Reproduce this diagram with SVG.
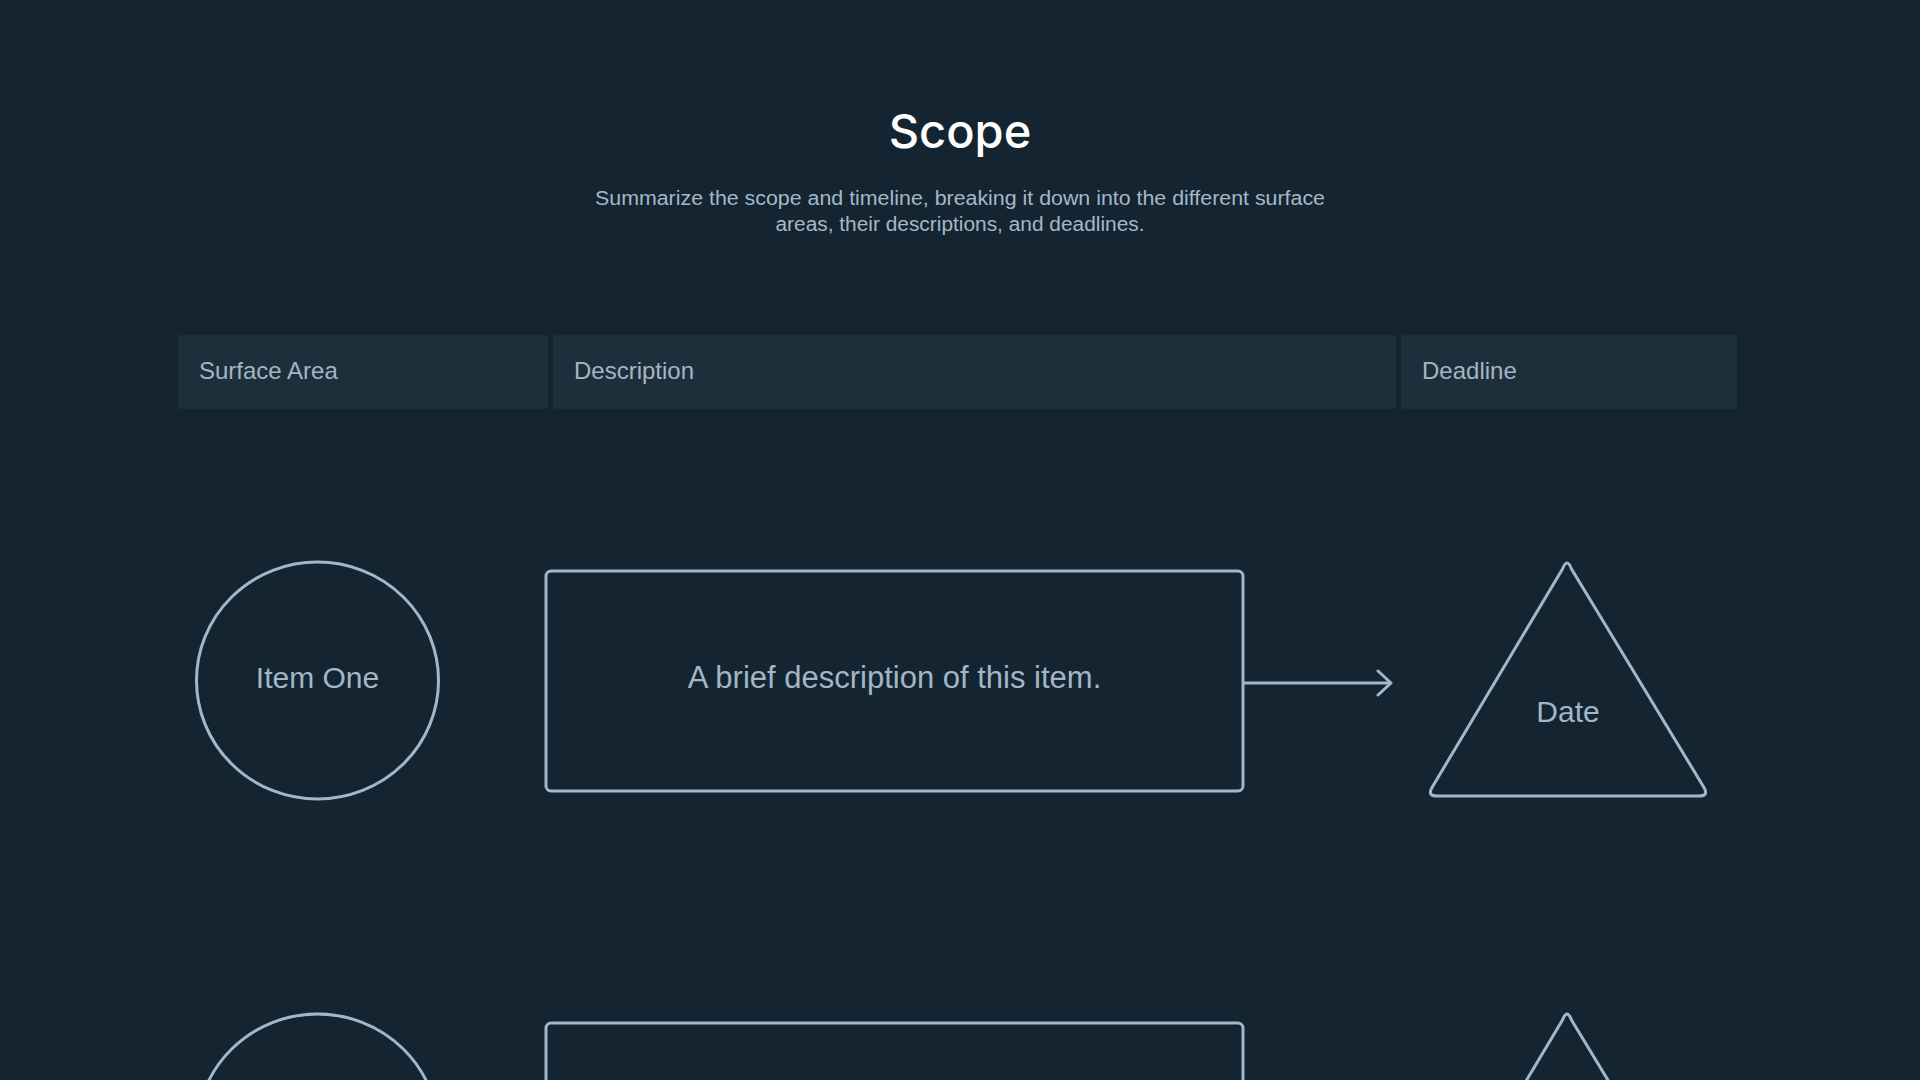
<svg xmlns="http://www.w3.org/2000/svg" width="1920" height="1080" viewBox="0 0 1920 1080">
  <style>
    .bg { fill: #142531; }
    .title { font-family: "Inter", "Liberation Sans", sans-serif; font-weight: 500; font-size: 47px; fill: #ffffff; text-anchor: middle; }
    .sub { font-family: "Liberation Sans", "Noto Sans", sans-serif; font-size: 19.5px; fill: #a5b8c7; text-anchor: middle; }
    .hdr { fill: #1e2f3c; }
    .hdrtxt { font-family: "Liberation Sans", "Noto Sans", sans-serif; font-size: 24px; fill: #a3b6c5; }
    .shape { fill: none; stroke: #a3b8c7; stroke-width: 3; stroke-linejoin: round; }
    .lbl { font-family: "Liberation Sans", "Noto Sans", sans-serif; font-size: 30px; fill: #a3b6c5; text-anchor: middle; }
    .conn { fill: none; stroke: #a3b8c7; stroke-width: 3; }
  </style>
  <defs>
    <marker id="arrow" markerUnits="userSpaceOnUse" viewBox="0 0 20 28" markerWidth="20" markerHeight="28" refX="16" refY="14" orient="auto">
      <path d="M3 2 L16 14 L3 26" fill="none" stroke="#a3b8c7" stroke-width="3" stroke-linecap="round" stroke-linejoin="round"/>
    </marker>
  </defs>

  <rect class="bg" x="0" y="0" width="1920" height="1080"/>

  <g id="header">
    <text class="title" x="960" y="148">Scope</text>
    <text class="sub" x="960" y="205" textLength="730" lengthAdjust="spacingAndGlyphs">Summarize the scope and timeline, breaking it down into the different surface</text>
    <text class="sub" x="960" y="231" textLength="369" lengthAdjust="spacingAndGlyphs">areas, their descriptions, and deadlines.</text>
  </g>

  <g id="col-surface-area">
    <rect class="hdr" x="178" y="335" width="370" height="74" rx="3"/>
    <text class="hdrtxt" x="199" y="379">Surface Area</text>
  </g>
  <g id="col-description">
    <rect class="hdr" x="553" y="335" width="843" height="74" rx="3"/>
    <text class="hdrtxt" x="574" y="379">Description</text>
  </g>
  <g id="col-deadline">
    <rect class="hdr" x="1401" y="335" width="336" height="74" rx="3"/>
    <text class="hdrtxt" x="1422" y="379">Deadline</text>
  </g>

  <g id="connectors">
    <line class="conn" x1="1244" y1="683" x2="1391" y2="683" marker-end="url(#arrow)"/>
  </g>

  <g id="item-one">
    <ellipse class="shape" cx="317.5" cy="680.5" rx="121" ry="118.5"/>
    <text class="lbl" x="317.5" y="688">Item One</text>
  </g>
  <g id="description-one">
    <rect class="shape" x="546" y="571" width="697" height="220" rx="5"/>
    <text class="lbl" x="894.5" y="688" style="font-size:31px">A brief description of this item.</text>
  </g>
  <g id="date-one">
    <path class="shape" d="M1562.5 569 Q1567 557 1571.5 569 L1704 787.5 Q1709 796 1699 796 L1437 796 Q1427 796 1432 787.5 Z"/>
    <text class="lbl" x="1568" y="722">Date</text>
  </g>

  <g id="item-two">
    <ellipse class="shape" cx="317.5" cy="1132.5" rx="121" ry="118.5"/>
  </g>
  <g id="description-two">
    <rect class="shape" x="546" y="1023" width="697" height="220" rx="5"/>
  </g>
  <g id="date-two">
    <path class="shape" d="M1562.5 1020 Q1567 1008 1571.5 1020 L1704 1238.5 Q1709 1247 1699 1247 L1437 1247 Q1427 1247 1432 1238.5 Z"/>
  </g>
</svg>
